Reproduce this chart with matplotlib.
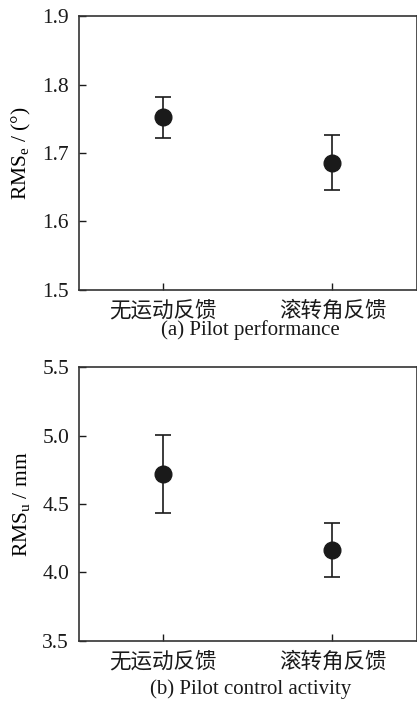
import numpy as np
import matplotlib
matplotlib.use("Agg")
import matplotlib.pyplot as plt

plt.rcParams['font.family'] = ['Liberation Serif', 'Noto Sans CJK SC']
plt.rcParams['mathtext.fontset'] = 'custom'
plt.rcParams['mathtext.rm'] = 'Liberation Serif'
plt.rcParams['mathtext.it'] = 'Liberation Serif'

conditions = ["无运动反馈", "滚转角反馈"]

# (a) pilot performance
rms_e = [1.752, 1.686]
rms_e_err = [0.030, 0.040]

# (b) pilot control activity
rms_u = [4.72, 4.165]
rms_u_err = [0.285, 0.200]

fig = plt.figure(figsize=(4.17, 7.02), dpi=100)
ax1 = fig.add_axes([0.189, 0.587, 0.811, 0.390])
ax2 = fig.add_axes([0.189, 0.087, 0.811, 0.390])

panels = [
    (ax1, rms_e, rms_e_err, (1.5, 1.9), [1.5, 1.6, 1.7, 1.8, 1.9],
     r"RMS$_\mathrm{e}$ / (°)", "(a) Pilot performance", 330),
    (ax2, rms_u, rms_u_err, (3.5, 5.5), [3.5, 4.0, 4.5, 5.0, 5.5],
     r"RMS$_\mathrm{u}$ / mm", "(b) Pilot control activity", 689),
]

x = np.arange(len(conditions))
for ax, vals, errs, ylim, yticks, ylabel, caption, cap_y in panels:
    ax.errorbar(x, vals, yerr=errs, fmt="o", color="#1a1a1a", ecolor="#1a1a1a",
                markersize=12, capsize=6, elinewidth=1.2, capthick=1.2)
    ax.set_xlim(-0.5, 1.5)
    ax.set_ylim(*ylim)
    ax.set_yticks(yticks)
    ax.set_yticklabels(["%.1f" % t for t in yticks])
    ax.set_xticks(x)
    ax.set_xticklabels(conditions, fontsize=15)
    ax.tick_params(direction="in", length=5, width=1.0, labelsize=15.5,
                   colors="#1a1a1a")
    ax.tick_params(axis="y", pad=7)
    ax.tick_params(axis="x", pad=8)
    for s in ax.spines.values():
        s.set_linewidth(1.2)
        s.set_color("#333333")
    ax.set_ylabel(ylabel, fontsize=15.5, labelpad=7)
    fig.text(0.6, 1 - cap_y / 702, caption, fontsize=15,
             ha="center", va="center", color="#1a1a1a")

fig.savefig("out.png", dpi=100)
